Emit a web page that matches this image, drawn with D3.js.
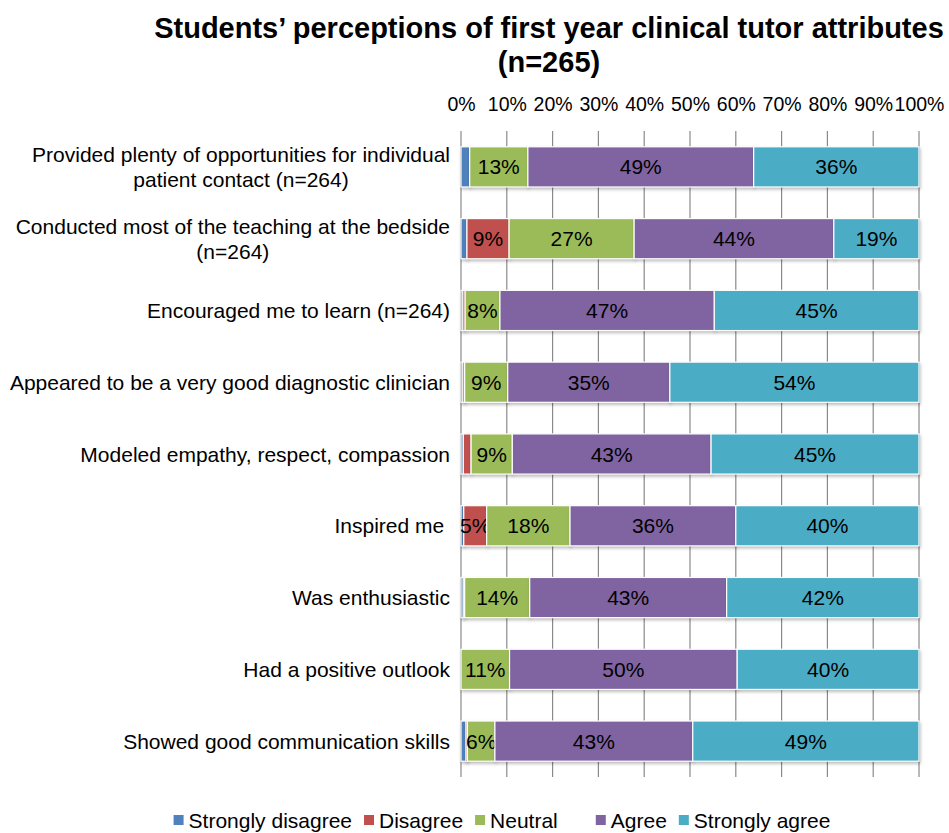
<!DOCTYPE html>
<html>
<head>
<meta charset="utf-8">
<script src="https://cdn.jsdelivr.net/npm/d3@7"></script>
<style>
  body { margin: 0; background: #fff; }
  text { font-family: "Liberation Sans", Arial, sans-serif; white-space: pre; }
</style>
</head>
<body>
<div id="viz"></div>
<script>
const width = 949, height = 833;
const margin = { top: 131, right: 30, bottom: 56, left: 461 }; // plot area

// data
const categories = [
  ['Provided plenty of opportunities for individual', 'patient contact (n=264)'],
  ['Conducted most of the teaching at the bedside', '(n=264)'],
  ['Encouraged me to learn (n=264)'],
  ['Appeared to be a very good diagnostic clinician'],
  ['Modeled empathy, respect, compassion'],
  ['Inspired me '],
  ['Was enthusiastic'],
  ['Had a positive outlook'],
  ['Showed good communication skills']
];
const seriesNames = ['Strongly disagree', 'Disagree', 'Neutral', 'Agree', 'Strongly agree'];
const stronglyDisagree = [1.9, 1.3, 0.4, 0.4, 0.5, 0.6, 0.5, 0.0, 1.1];
const disagree         = [0.0, 9.2, 0.5, 0.4, 1.7, 5.0, 0.3, 0.0, 0.3];
const neutral          = [12.7, 27.3, 7.6, 9.4, 9.0, 18.2, 14.2, 10.6, 6.0];
const agree            = [49.3, 43.6, 46.8, 35.4, 43.4, 36.2, 43.0, 49.7, 43.2];
const stronglyAgree    = [36.1, 18.6, 44.7, 54.4, 45.4, 40.0, 42.0, 39.7, 49.4];
const xTicks = [0, 10, 20, 30, 40, 50, 60, 70, 80, 90, 100];
const colors = ['#4F81BD', '#C0504D', '#9BBB59', '#8064A2', '#4BACC6'];

const series = [stronglyDisagree, disagree, neutral, agree, stronglyAgree];
const rows = categories.map((c, i) => {
  const r = { idx: i };
  seriesNames.forEach((s, j) => r[s] = series[j][i]);
  return r;
});
const stacked = d3.stack().keys(seriesNames)(rows);

const svg = d3.select('#viz').append('svg')
  .attr('width', width).attr('height', height);

const x = d3.scaleLinear().domain([0, 100]).range([margin.left, 919]);
const y = d3.scaleBand().domain(d3.range(categories.length))
  .range([margin.top, height - margin.bottom]).paddingInner(0.44).paddingOuter(0.22);

// title
svg.append('text').attr('x', 549).attr('y', 38).attr('text-anchor', 'middle')
  .attr('font-size', 29).attr('font-weight', 'bold')
  .text('Students’ perceptions of first year clinical tutor attributes');
svg.append('text').attr('x', 549).attr('y', 72).attr('text-anchor', 'middle')
  .attr('font-size', 29).attr('font-weight', 'bold').text('(n=265)');

// gridlines
svg.append('g').selectAll('line').data(xTicks).enter().append('line')
  .attr('x1', d => x(d)).attr('x2', d => x(d))
  .attr('y1', margin.top).attr('y2', height - margin.bottom)
  .attr('stroke', '#8a8a8a').attr('stroke-width', 1.2);

// top axis labels
const xAxis = svg.append('g').attr('transform', `translate(0,${margin.top})`)
  .call(d3.axisTop(x).tickValues(xTicks).tickFormat(d => d + '%').tickSize(0).tickPadding(20));
xAxis.select('.domain').remove();
xAxis.selectAll('text').attr('font-size', 19.5).attr('fill', '#000')
  .attr('font-family', '"Liberation Sans", Arial, sans-serif');

// bars
const layer = svg.append('g').selectAll('g').data(stacked).enter().append('g')
  .attr('fill', (d, i) => colors[i]);
layer.selectAll('rect').data(d => d).enter().append('rect')
  .attr('x', d => x(d[0]))
  .attr('width', d => Math.max(0, x(d[1]) - x(d[0])))
  .attr('y', d => y(d.data.idx))
  .attr('height', y.bandwidth())
  .attr('stroke', '#fff').attr('stroke-width', 1.2)
  .style('filter', 'drop-shadow(1px 2px 1.5px rgba(0,0,0,0.25))');

// data labels
layer.selectAll('text').data(d => d.filter(v => (v[1] - v[0]) >= 4.5)).enter().append('text')
  .attr('x', d => (x(d[0]) + x(d[1])) / 2)
  .attr('y', d => y(d.data.idx) + y.bandwidth() / 2)
  .attr('dy', '0.36em').attr('text-anchor', 'middle')
  .attr('font-size', 21).attr('fill', '#000')
  .text(d => Math.round(d[1] - d[0]) + '%');

// category labels (wrapped lines centred in their block, block right-aligned)
const labG = svg.append('g');
categories.forEach((lines, i) => {
  const cy = y(i) + y.bandwidth() / 2;
  const tmp = labG.append('text').attr('font-size', 21).text(lines.reduce((a, b) => a.length > b.length ? a : b));
  const w = tmp.node().getComputedTextLength();
  tmp.remove();
  const cx = 450 - w / 2;
  lines.forEach((ln, k) => {
    labG.append('text').attr('x', lines.length > 1 ? cx : 450)
      .attr('text-anchor', lines.length > 1 ? 'middle' : 'end')
      .attr('y', cy + (k - (lines.length - 1) / 2) * 25)
      .attr('dy', '0.36em').attr('font-size', 21).text(ln);
  });
});

// legend
const legend = svg.append('g');
let lx = 0;
seriesNames.forEach((s, i) => {
  const g = legend.append('g').attr('transform', `translate(${lx},0)`);
  g.append('rect').attr('x', 0).attr('y', -5).attr('width', 10).attr('height', 10).attr('fill', colors[i]);
  const t = g.append('text').attr('x', 15).attr('y', 0).attr('dy', '0.36em').attr('font-size', 21).text(s);
  lx += 15 + t.node().getComputedTextLength() + (s === 'Neutral' ? 38 : 12);
});
lx -= 12;
legend.attr('transform', `translate(${502 - lx / 2},820)`);
</script>
</body>
</html>
